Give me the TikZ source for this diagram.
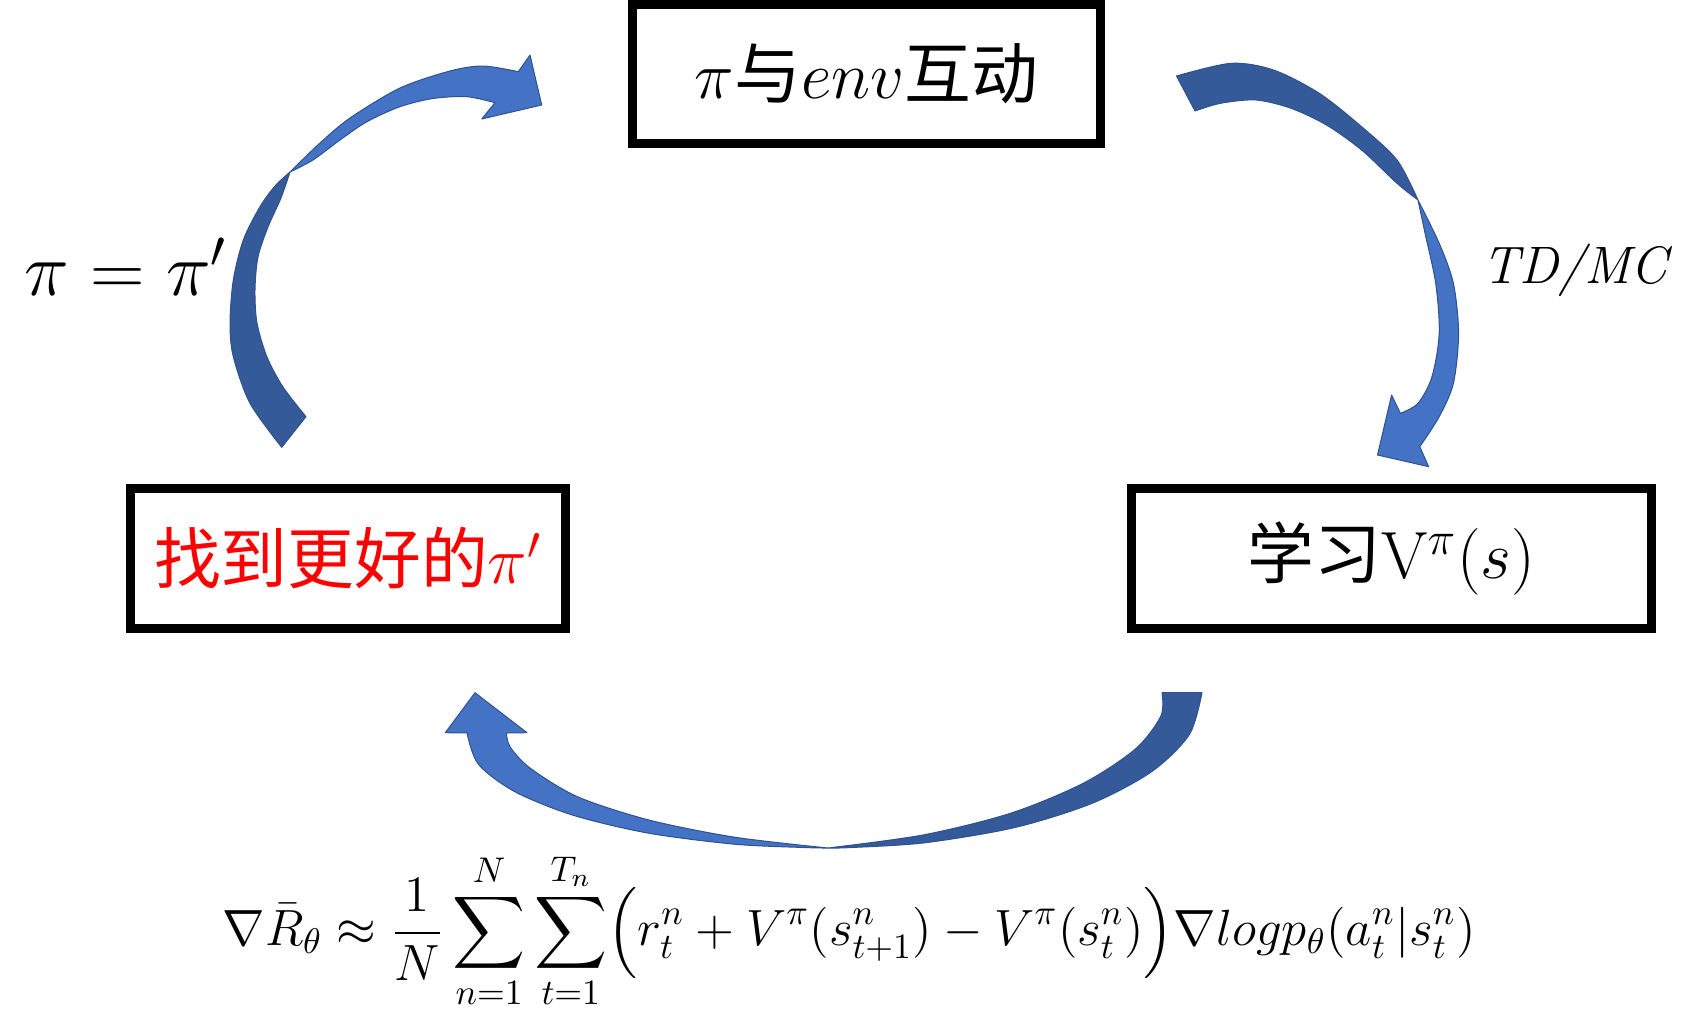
\documentclass[tikz,border=0pt]{standalone}
\usepackage{fix-cm}
\usepackage{amsmath}
\usepackage{fontspec}
\newfontfamily\cjk{Noto Sans CJK SC}
\usepackage{tikz}
\definecolor{arrlight}{RGB}{68,114,196}
\definecolor{arrdark}{RGB}{52,90,153}
\definecolor{arredge}{RGB}{47,82,143}
\tikzset{
  stagebox/.style={rectangle,draw=black,line width=0.9mm,inner sep=0pt,minimum height=14mm,font=\cjk\fontsize{19}{23}\selectfont},
  % the two faces of a bent block arrow, meeting at a pinch
  bandlight/.style={fill=arrlight,draw=arredge,line width=0.1mm,line join=round},
  banddark/.style={fill=arrdark,draw=arredge,line width=0.1mm,line join=round},
  lbl/.style={inner sep=0pt},
}

\begin{document}
\begin{tikzpicture}[x=0.1mm,y=-0.1mm]
  \useasboundingbox (0,0) rectangle (1703,1021);
  % ---- the three stages of the loop ----
  \node[stagebox,minimum width=46.8mm,minimum height=13.9mm] (interact) at (866.5,74) {$\pi$与$env$互动};
  \node[stagebox,minimum width=43.5mm,text=red] (improve) at (348,558.5) {找到更好的$\pi'$};
  \node[stagebox,minimum width=52mm] (learnV) at (1391.5,558.5) {学习{\rmfamily V}$^{\pi}(s)$};
  % ---- left arrow: improve -> interact ----
  \filldraw[banddark] plot[smooth] coordinates {(281.7,447.3) (250,403.3) (233.3,356.7) (230,323.3) (233.3,280) (243.3,240) (260,206.7) (275,186) (290,172)}
    -- plot[smooth] coordinates {(290,172) (281,198) (268,227) (258,257) (255,290) (257,323) (267,357) (283,387) (306,416.7)} -- cycle;
  \filldraw[bandlight] plot[smooth] coordinates {(290,172) (320,143) (350,118) (400,88) (450,71) (483,66) (518.3,71.7)}
    -- (530,55) -- (541.7,105) -- (481.7,119)
    -- plot[smooth] coordinates {(495,102.7) (466.7,96.7) (433,98.5) (400,106.7) (367,121.7) (340,140) (313,160) (290,172)} -- cycle;
  % ---- right arrow: interact -> learnV ----
  \filldraw[banddark] plot[smooth] coordinates {(1176.5,76) (1231,63.3) (1273.5,70) (1319.3,93.3) (1361.6,126.7) (1397,160) (1418,200)}
    -- plot[smooth] coordinates {(1418,200) (1397,183.3) (1361.6,150) (1326.4,125) (1291,108.3) (1255.8,100) (1220.5,103.3) (1195,111)} -- cycle;
  \filldraw[bandlight] plot[smooth] coordinates {(1418,200) (1439.2,243.3) (1453.4,283.3) (1458.6,333.3) (1453.4,383.3) (1439.2,416.7) (1419.8,446.7)}
    -- (1428.7,466.7) -- (1377.5,455) -- (1391.6,395)
    -- plot[smooth] coordinates {(1400.4,413.3) (1418,403.3) (1432,376.7) (1439.2,333.3) (1435.7,283.3) (1425,233) (1418,200)} -- cycle;
  % ---- bottom arrow: learnV -> improve ----
  \filldraw[banddark] plot[smooth] coordinates {(1202,692.7) (1189.3,734.6) (1151.9,771.5) (1092.4,803.2) (1015,827.5) (924.8,842.8) (850,847.6) (828,848)}
    -- plot[smooth] coordinates {(828,848) (923.9,834.8) (1011.6,812.9) (1084.1,782.8) (1135.7,748.7) (1160.9,716) (1162,692.7)} -- cycle;
  \filldraw[bandlight] plot[smooth] coordinates {(828,848) (806,847.6) (734.2,844.2) (647,832.9) (572,814.9) (514.5,791.5) (478.3,764.2) (467,733)}
    -- (445.3,732.7) -- (475,692.7) -- (527,732.7)
    -- plot[smooth] coordinates {(506.5,733) (510,746.7) (530,768) (577.7,796.8) (649.3,820.1) (734.8,837.2) (828,848)} -- cycle;
  % ---- labels ----
  \node[lbl,font=\fontsize{21.5}{26}\selectfont] (update) at (126,267) {$\pi=\pi'$};
  \node[lbl,font=\itshape\fontsize{15}{18}\selectfont] (tdmc) at (1575,270) {TD/MC};
  \node[lbl,font=\fontsize{14.5}{17}\selectfont] (grad) at (849,931)
    {$\displaystyle \nabla\bar{R}_{\theta}\approx\frac{1}{N}\sum_{n=1}^{N}\sum_{t=1}^{T_n}\Bigl(r_t^n+V^{\pi}(s_{t+1}^n)-V^{\pi}(s_t^n)\Bigr)\nabla log p_{\theta}(a_t^n|s_t^n)$};
\end{tikzpicture}
\end{document}
